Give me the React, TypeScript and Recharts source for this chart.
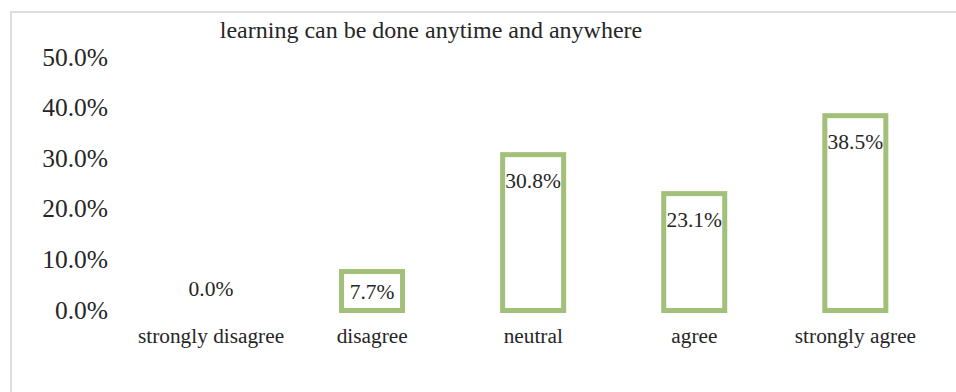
import { BarChart, Bar, XAxis, YAxis, LabelList } from 'recharts';

// ==========================================
// DATA
// ==========================================

const categories = ['strongly disagree', 'disagree', 'neutral', 'agree', 'strongly agree'];
const shares = [0.0, 7.7, 30.8, 23.1, 38.5];
const yTicks = [0, 10, 20, 30, 40, 50];

const data = categories.map((name, i) => ({ name, value: shares[i] }));

const FONT = '"Liberation Serif", "Times New Roman", serif';
const INK = '#262626';
const GREEN = '#a2c07a';

const YTick = (props: any) => {
  const { y, payload } = props;
  return (
    <text x={108} y={y} dy={8} textAnchor="end" fontFamily={FONT} fontSize={25.5} fill={INK}>
      {payload.value.toFixed(1)}%
    </text>
  );
};

const XTick = (props: any) => {
  const { x, y, payload } = props;
  return (
    <text x={x} y={y} dy={24} textAnchor="middle" fontFamily={FONT} fontSize={21.3} fill={INK}>
      {payload.value}
    </text>
  );
};

// outline-only bar, nothing drawn for a zero value
const OutlineBar = (props: any) => {
  const { x, y, width, height, value } = props;
  const v = Array.isArray(value) ? value[1] - value[0] : value;
  if (!v) return <g />;
  return (
    <rect x={x} y={y} width={width} height={height} fill="#ffffff" stroke={GREEN} strokeWidth={5} />
  );
};

// inside-end labels, pushed above when the bar is too short
const ValueLabel = (props: any) => {
  const { x, y, width, height, value } = props;
  const cy = height > 45 ? y + 26 : (Number(value) === 0 ? y + height - 22 : y + height - 19);
  return (
    <text x={x + width / 2} y={cy} dy={7} textAnchor="middle" fontFamily={FONT} fontSize={21.5} fill={INK}>
      {Number(value).toFixed(1)}%
    </text>
  );
};

export default function App() {
  return (
    <div style={{ position: 'absolute', left: 0, top: 0, width: 956, height: 392, background: '#fff', overflow: 'hidden' }}>

      {/* FRAME */}
      <div style={{
        position: 'absolute', left: 10, top: 11, width: 960, height: 400,
        borderLeft: '2px solid #dcdde3', borderTop: '2px solid #dcdde3'
      }} />

      {/* TITLE */}
      <div style={{
        position: 'absolute', left: 0, top: 17, width: 862, textAlign: 'center',
        fontFamily: FONT, fontSize: 24, color: INK, lineHeight: '26px'
      }}>
        learning can be done anytime and anywhere
      </div>

      <BarChart
        width={956}
        height={392}
        data={data}
        margin={{ top: 57.5, right: 20, left: 0, bottom: 41.5 }}
        barCategoryGap="31%"
        style={{ position: 'absolute', left: 0, top: 0 }}
      >
        <XAxis
          dataKey="name"
          axisLine={false}
          tickLine={false}
          height={40}
          tick={<XTick />}
          interval={0}
        />
        <YAxis
          width={130.5}
          domain={[0, 50]}
          ticks={yTicks}
          axisLine={false}
          tickLine={false}
          tick={<YTick />}
        />
        <Bar
          dataKey="value"
          fill="#ffffff"
          stroke={GREEN}
          strokeWidth={5}
          minPointSize={0.01}
          shape={<OutlineBar />}
          isAnimationActive={false}
        >
          <LabelList dataKey="value" content={<ValueLabel />} />
        </Bar>
      </BarChart>

    </div>
  );
}
